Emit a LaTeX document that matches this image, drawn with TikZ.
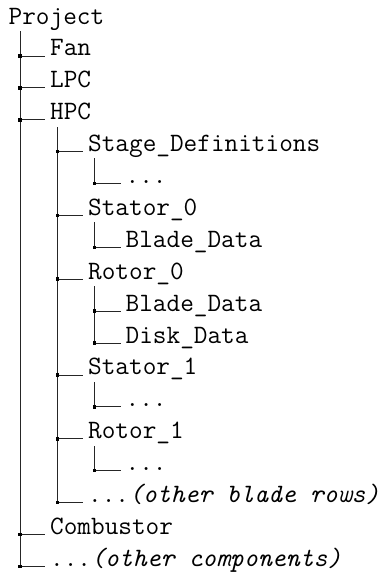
\documentclass[tikz,border=0pt]{standalone}
\begin{document}
\begin{tikzpicture}[x=1pt,y=-1pt,
  lbl/.style={anchor=base west,inner sep=0pt,
    font=\fontsize{26.5}{30}\selectfont\ttfamily},
  rail/.style={line width=0.8pt,black!85},
  knot/.style={fill=black,draw=none,minimum size=3.6pt,inner sep=0pt,
    rectangle}]
\useasboundingbox (0,0) rectangle (380,573);

% ---- labels (one per row, baseline positions) ----
\node[lbl] (root)  at (8.5,24.0)    {Project};
\node[lbl] (fan)   at (50,55.9)     {Fan};
\node[lbl] (lpc)   at (50,87.8)     {LPC};
\node[lbl] (hpc)   at (50,119.7)    {HPC};
\node[lbl] (sd)    at (88,151.6)    {Stage\_Definitions};
\node[lbl] (sdx)   at (125.5,183.5) {...};
\node[lbl] (st0)   at (88,215.4)    {Stator\_0};
\node[lbl] (st0b)  at (125.5,247.3) {Blade\_Data};
\node[lbl] (ro0)   at (88,279.2)    {Rotor\_0};
\node[lbl] (ro0b)  at (125.5,311.1) {Blade\_Data};
\node[lbl] (ro0d)  at (125.5,343.0) {Disk\_Data};
\node[lbl] (st1)   at (88,374.9)    {Stator\_1};
\node[lbl] (st1x)  at (125.5,406.8) {...};
\node[lbl] (ro1)   at (88,438.7)    {Rotor\_1};
\node[lbl] (ro1x)  at (125.5,470.6) {...};
\node[lbl] (hpcx)  at (88,502.5)    {...\textit{(other blade rows)}};
\node[lbl] (comb)  at (50,534.4)    {Combustor};
\node[lbl] (compx) at (50,566.3)    {...\textit{(other components)}};

% ---- junction points on the vertical rails ----
\foreach \n/\x in {fan/20,lpc/20,hpc/20,comb/20,compx/20,
                   sd/57.3,st0/57.3,ro0/57.3,st1/57.3,ro1/57.3,hpcx/57.3,
                   sdx/94.3,st0b/94.3,ro0b/94.3,ro0d/94.3,st1x/94.3,ro1x/94.3}
  \coordinate (j-\n) at (\x,0 |- \n.base);

% rail tops, just under each parent label
\coordinate (t-root) at (20,31);
\coordinate (t-hpc)  at (57.3,127);
\coordinate (t-sd)   at (94.3,158);
\coordinate (t-st0)  at (94.3,222);
\coordinate (t-ro0)  at (94.3,286);
\coordinate (t-st1)  at (94.3,382);
\coordinate (t-ro1)  at (94.3,446);

% ---- vertical rails ----
\draw[rail] (t-root) -- (j-compx);
\draw[rail] (t-hpc)  -- (j-hpcx);
\draw[rail] (t-sd)   -- (j-sdx);
\draw[rail] (t-st0)  -- (j-st0b);
\draw[rail] (t-ro0)  -- (j-ro0d);
\draw[rail] (t-st1)  -- (j-st1x);
\draw[rail] (t-ro1)  -- (j-ro1x);

% ---- horizontal branches with square knots ----
\foreach \n in {fan,lpc,hpc,comb,compx,sd,st0,ro0,st1,ro1,hpcx,
                sdx,st0b,ro0b,ro0d,st1x,ro1x}{
  \draw[rail] (j-\n) -- ([xshift=-5pt]\n.base west);
  \node[knot] at (j-\n) {};
}
\end{tikzpicture}
\end{document}
